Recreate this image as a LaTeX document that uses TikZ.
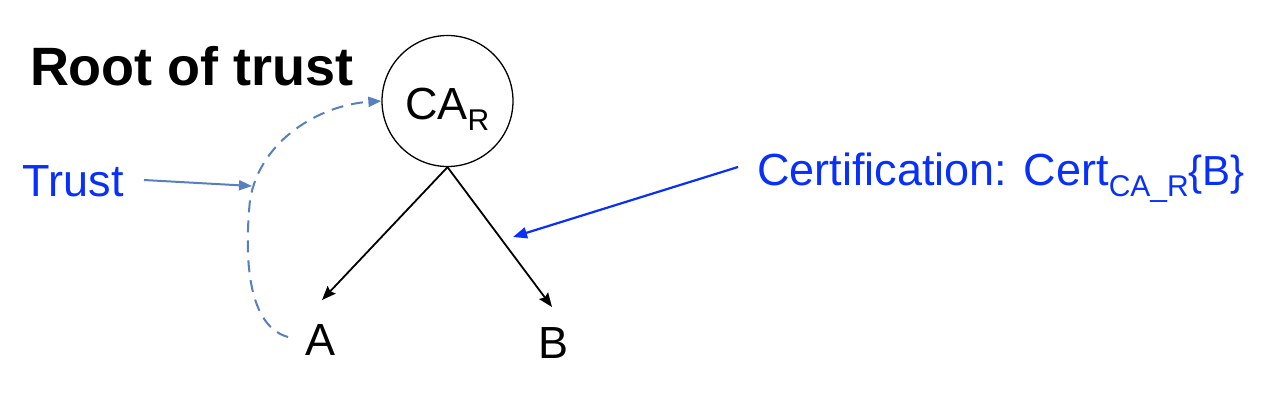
\documentclass[tikz,border=0pt]{standalone}
\usepackage{fontspec}
\setmainfont{Liberation Sans}
\usetikzlibrary{arrows.meta}
\definecolor{txtblue}{RGB}{8,48,250}
\definecolor{trustblue}{RGB}{88,128,190}
\tikzset{
  lbl/.style={anchor=base west, inner sep=0pt, outer sep=0pt, font=\fontsize{45}{54}\selectfont},
  blk/.style={draw=black, line width=1.8pt, -{Stealth[length=14pt,width=11pt,inset=2pt]}},
  trustarr/.style={draw=trustblue, line width=2pt, -{Triangle[length=13pt,width=10pt]}},
  certarr/.style={draw=txtblue, line width=2.2pt, -{Triangle[length=14pt,width=11pt]}},
}
\begin{document}
\begin{tikzpicture}[x=1pt,y=-1pt]
\useasboundingbox[fill=white] (0,0) rectangle (1280,410);
% title
\node[lbl, font=\fontsize{54}{60}\selectfont\bfseries] (title) at (30,85) {Root of trust};
% root CA
\node[circle, draw=black, line width=1.3pt, minimum size=131pt, inner sep=0pt] (ca) at (447.5,101) {};
\node[lbl] (catext) at (405,119) {CA\raisebox{-11pt}{\fontsize{30}{30}\selectfont R}};
% leaves
\node[lbl] (a) at (305,355) {A};
\node[lbl] (b) at (538,358) {B};
\coordinate (atip) at (322,300);
\coordinate (btip) at (552,307);
\draw[blk] (ca.south) -- (atip);
\draw[blk] (ca.south) -- (btip);
% trust
\node[lbl, text=txtblue] (trust) at (23,196) {Trust};
\coordinate (truststart) at (144,180);
\coordinate (trusttip) at (252,186);
\coordinate (dashstart) at (288,337);
\draw[trustarr] (truststart) -- (trusttip);
\draw[trustarr, dash pattern=on 12pt off 8pt] (dashstart) .. controls (245,325) and (245,250) .. (250,200) .. controls (260,140) and (320,105) .. (ca.west);
% certification
\node[lbl, text=txtblue] (cert) at (757,185) {Certification: Cert\raisebox{-11pt}{\fontsize{30}{30}\selectfont CA\_R}{\fontsize{42}{42}\selectfont\{B\}}};
\coordinate (certstart) at (738,167);
\coordinate (certtip) at (513,237);
\draw[certarr] (certstart) -- (certtip);
\end{tikzpicture}
\end{document}
